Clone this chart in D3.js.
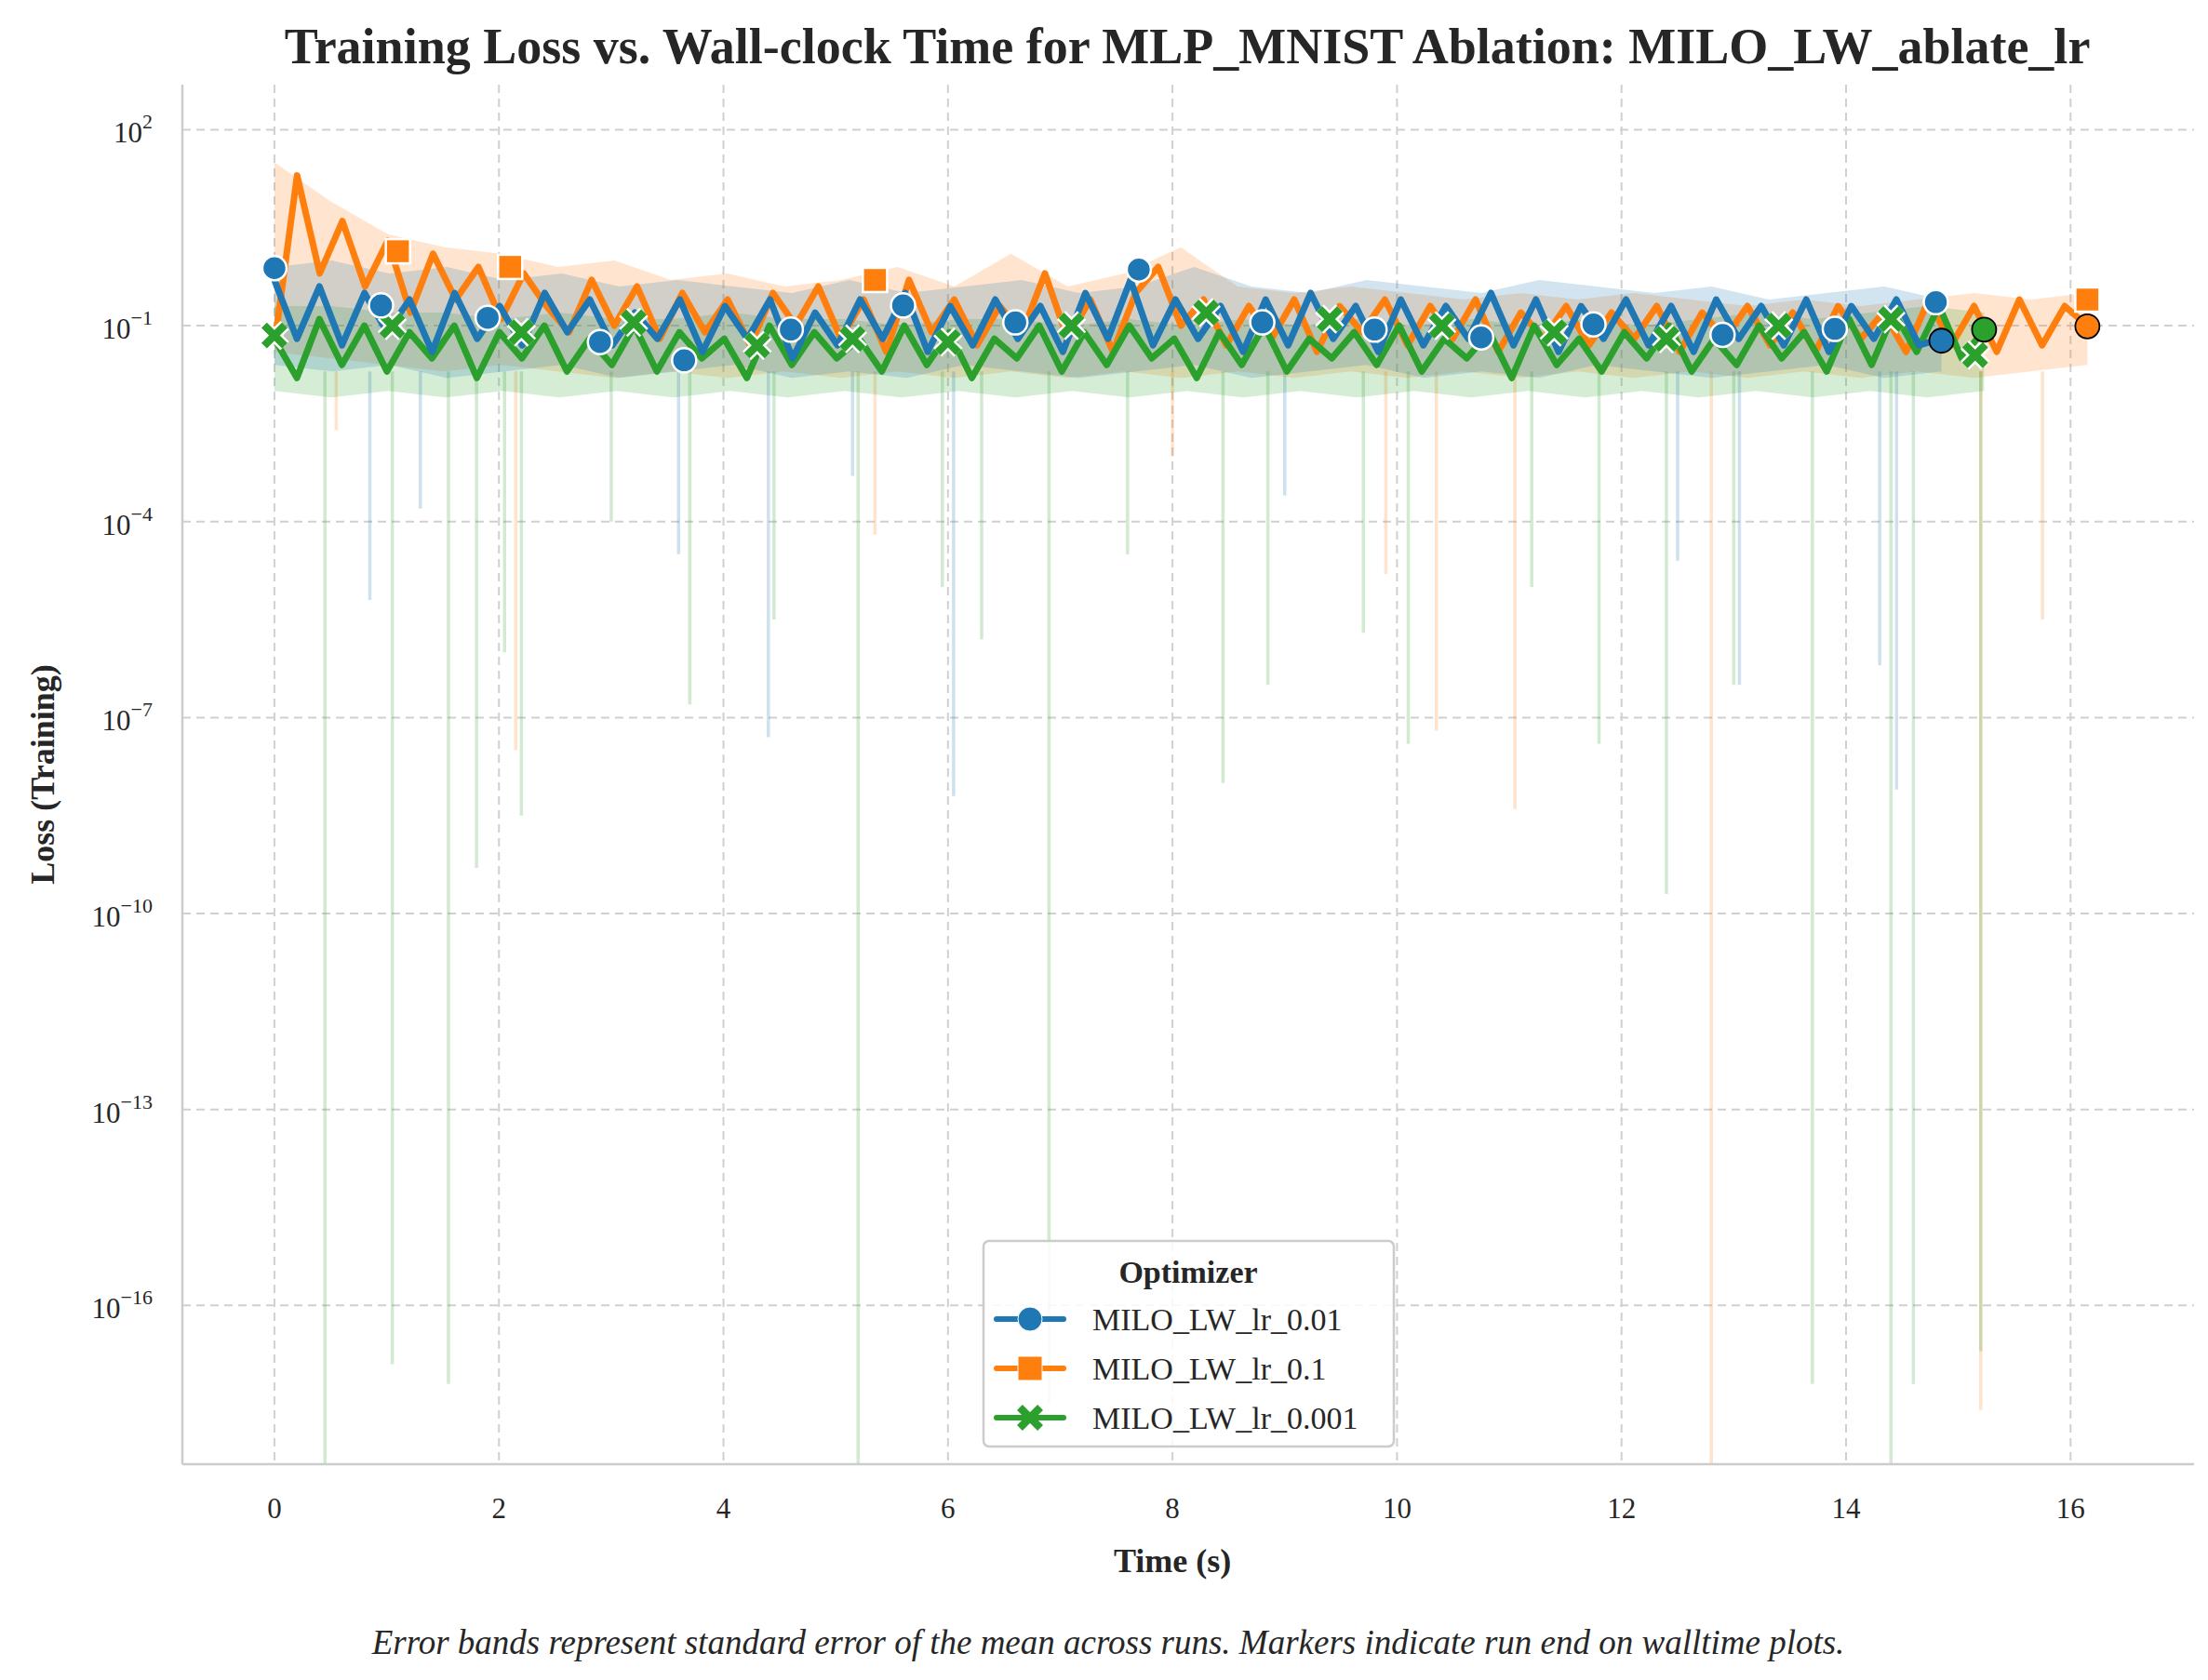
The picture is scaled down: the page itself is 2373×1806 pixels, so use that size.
<!DOCTYPE html>
<html>
<head>
<meta charset="utf-8">
<script src="https://cdn.jsdelivr.net/npm/d3@7"></script>
<style>
  body { margin: 0; background: white; }
  text { font-family: "Liberation Serif", "DejaVu Serif", serif; fill: #262626; }
</style>
</head>
<body>
<div id="chart"></div>
<script>
// Series names and colours
var seriesNames = ["MILO_LW_lr_0.01", "MILO_LW_lr_0.1", "MILO_LW_lr_0.001"];
var seriesEnd = [14.85, 16.15, 15.23];   // run end time (s)

// Mean loss, log10, evenly spaced from 0 to run end
var blueLog = [-0.3,-1.2,-0.4,-1.3,-0.5,-1.1,-0.6,-1.4,-0.5,-1.2,
  -0.7,-1.3,-0.5,-1.1,-0.6,-1.3,-0.8,-1.2,-0.6,-1.4,
  -0.7,-1.2,-0.6,-1.5,-0.8,-1.3,-0.6,-1.2,-0.5,-1.4,
  -0.7,-1.3,-0.6,-1.2,-0.7,-1.4,-0.5,-1.2,-0.3,-1.3,
  -0.6,-1.2,-0.7,-1.4,-0.6,-1.3,-0.5,-1.2,-0.7,-1.4,
  -0.6,-1.3,-0.7,-1.2,-0.5,-1.3,-0.6,-1.4,-0.7,-1.2,
  -0.6,-1.3,-0.7,-1.4,-0.6,-1.2,-0.7,-1.3,-0.6,-1.4,
  -0.7,-1.2,-0.6,-1.3,-1.2];
var orangeLog = [-1.3,1.3,-0.2,0.6,-0.4,0.3,-0.8,0.1,-0.6,-0.1,
  -0.9,-0.2,-0.7,-1.1,-0.3,-1.0,-0.4,-1.2,-0.5,-1.1,
  -0.6,-1.3,-0.5,-1.0,-0.4,-1.2,-0.6,-1.4,-0.3,-1.1,
  -0.6,-1.3,-0.7,-1.1,-0.2,-1.2,-0.6,-1.4,-0.5,-0.1,
  -1.0,-0.6,-1.3,-0.7,-1.2,-0.6,-1.4,-0.7,-1.1,-0.6,
  -1.3,-0.7,-1.2,-0.6,-1.4,-0.8,-1.2,-0.7,-1.3,-0.8,
  -1.2,-0.7,-1.4,-0.8,-1.2,-0.7,-1.3,-0.8,-1.4,-0.7,
  -1.2,-0.8,-1.4,-0.6,-1.3,-0.7,-1.4,-0.6,-1.3,-0.7,-1.0];
var greenLog = [-1.2,-1.8,-0.9,-1.6,-1.0,-1.7,-1.1,-1.5,-1.0,-1.8,
  -1.1,-1.5,-1.0,-1.7,-1.2,-1.6,-1.0,-1.7,-1.1,-1.5,
  -1.2,-1.8,-1.0,-1.6,-1.1,-1.5,-1.2,-1.7,-1.0,-1.6,
  -1.1,-1.8,-1.2,-1.5,-1.0,-1.7,-1.1,-1.6,-1.0,-1.5,
  -1.2,-1.8,-1.1,-1.6,-1.0,-1.7,-1.2,-1.5,-1.1,-1.6,
  -1.0,-1.7,-1.2,-1.5,-1.1,-1.8,-1.0,-1.6,-1.2,-1.7,
  -1.1,-1.5,-1.0,-1.7,-1.2,-1.6,-1.0,-1.5,-1.1,-1.7,
  -0.9,-1.6,-0.8,-1.4,-0.7,-1.5,-1.06];

// Error band envelopes, log10, sampled every half second
var blueUpper = [-0.1,0.0,-0.2,-0.1,-0.3,-0.2,-0.4,-0.3,-0.4,-0.5,-0.3,-0.5,-0.4,-0.3,-0.5,
  -0.4,-0.1,-0.4,-0.5,-0.3,-0.4,-0.5,-0.3,-0.4,-0.5,-0.4,-0.6,-0.5,-0.4,-0.6];
var blueLower = [-1.6,-1.7,-1.6,-1.8,-1.7,-1.6,-1.8,-1.7,-1.6,-1.8,-1.7,-1.8,-1.6,-1.7,-1.8,
  -1.7,-1.6,-1.8,-1.7,-1.6,-1.8,-1.7,-1.8,-1.6,-1.7,-1.8,-1.7,-1.6,-1.8,-1.7];
var orangeUpper = [1.5,0.9,0.4,0.2,0.1,-0.1,0.0,-0.3,-0.2,-0.4,-0.3,-0.1,-0.4,0.1,-0.4,
  -0.2,0.2,-0.4,-0.5,-0.4,-0.5,-0.6,-0.5,-0.6,-0.5,-0.6,-0.7,-0.6,-0.7,-0.6,-0.5,-0.6,-0.5];
var orangeLower = [-1.4,-1.5,-1.6,-1.7,-1.6,-1.7,-1.8,-1.7,-1.8,-1.7,-1.8,-1.7,-1.8,-1.7,-1.8,
  -1.7,-1.8,-1.7,-1.8,-1.7,-1.8,-1.7,-1.8,-1.7,-1.8,-1.7,-1.8,-1.7,-1.8,-1.7,-1.8,-1.7,-1.6];
var greenUpper = [-0.7,-0.7,-0.8,-0.8,-0.9,-0.8,-0.9,-0.9,-0.8,-0.9,-0.9,-1.0,-0.9,-0.9,-1.0,
  -0.9,-1.0,-0.9,-1.0,-0.9,-1.0,-0.9,-1.0,-0.9,-1.0,-0.9,-0.8,-0.9,-0.8,-0.7,-0.8];
var greenLower = [-2.0,-2.1,-2.0,-2.1,-2.0,-2.1,-2.0,-2.1,-2.0,-2.1,-2.0,-2.1,-2.0,-2.1,-2.0,
  -2.1,-2.0,-2.1,-2.0,-2.1,-2.0,-2.1,-2.0,-2.1,-2.0,-2.1,-2.0,-2.1,-2.0,-2.1,-2.0];

// Deep dips of the lower error band: [time, log10 loss]
var blueSpikes = [[0.85,-5.2],[1.3,-3.8],[3.6,-4.5],[4.4,-7.3],[5.15,-3.3],[6.05,-8.2],
  [9.0,-3.6],[12.5,-4.6],[13.05,-6.5],[14.3,-6.2],[14.45,-8.1]];
var orangeSpikes = [[0.55,-2.6],[2.15,-7.5],[5.35,-4.2],[8.0,-3.0],[9.9,-4.8],[10.35,-7.2],
  [11.05,-8.4],[12.8,-18.5],[15.2,-17.6],[15.75,-5.5]];
var greenSpikes = [[0.45,-18.5],[1.05,-16.9],[1.55,-17.2],[1.8,-9.3],[2.05,-6.0],[2.2,-8.5],
  [3.0,-4.0],[3.7,-6.8],[4.45,-5.5],[5.2,-18.5],[5.95,-5.0],[6.3,-5.8],[6.9,-17.5],
  [7.6,-4.5],[8.45,-8.0],[8.85,-6.5],[9.7,-5.7],[10.1,-7.4],[11.2,-5.0],[11.8,-7.4],
  [12.4,-9.7],[13.0,-6.5],[13.7,-17.2],[14.4,-18.5],[14.6,-17.2],[15.2,-16.7]];

// Markers along the mean curves: [time, log10 loss]
var blueMarkers = [[0,-0.12],[0.95,-0.69],[1.9,-0.88],[2.9,-1.25],[3.65,-1.53],[4.6,-1.06],
  [5.6,-0.69],[6.6,-0.95],[7.7,-0.14],[8.8,-0.95],[9.8,-1.06],[10.75,-1.18],
  [11.75,-0.98],[12.9,-1.14],[13.9,-1.05],[14.8,-0.64]];
var orangeMarkers = [[1.1,0.14],[2.1,-0.1],[5.35,-0.3],[16.15,-0.6]];
var greenMarkers = [[0,-1.15],[1.05,-1.0],[2.2,-1.1],[3.2,-0.95],[4.3,-1.3],[5.15,-1.2],
  [6.0,-1.25],[7.1,-1.0],[8.3,-0.8],[9.4,-0.9],[10.4,-1.0],[11.4,-1.1],
  [12.4,-1.2],[13.4,-1.0],[14.4,-0.9],[15.15,-1.45]];

var xTicks = [0, 2, 4, 6, 8, 10, 12, 14, 16];
var yTickExp = [2, -1, -4, -7, -10, -13, -16];

var colors = ["#1f77b4", "#ff7f0e", "#2ca02c"];

var svgWidth = 2373, svgHeight = 1806;
var margin = { top: 91, right: 15, bottom: 232, left: 196 };
var chartWidth = svgWidth - margin.left - margin.right;
var chartHeight = svgHeight - margin.top - margin.bottom;

var svg = d3.select("#chart").append("svg")
  .attr("width", svgWidth).attr("height", svgHeight);
var g = svg.append("g").attr("transform", `translate(${margin.left},${margin.top})`);

var x = d3.scaleLinear().domain([-0.82, 17.1]).range([0, chartWidth]);
var y = d3.scaleLog().domain([Math.pow(10, -18.43), Math.pow(10, 2.69)]).range([chartHeight, 0]);
var p10 = function (e) { return Math.pow(10, e); };

// grid
g.selectAll(".gx").data(xTicks).enter().append("line")
  .attr("x1", d => x(d)).attr("x2", d => x(d)).attr("y1", 0).attr("y2", chartHeight)
  .attr("stroke", "#d0d0d0").attr("stroke-width", 2).attr("stroke-dasharray", "9,6");
g.selectAll(".gy").data(yTickExp).enter().append("line")
  .attr("y1", d => y(p10(d))).attr("y2", d => y(p10(d))).attr("x1", 0).attr("x2", chartWidth)
  .attr("stroke", "#d0d0d0").attr("stroke-width", 2).attr("stroke-dasharray", "9,6");

function series(vals, end) {
  var step = end / (vals.length - 1);
  return vals.map((v, i) => [i * step, v]);
}
function bandData(up, lo, end) {
  var step = end / (up.length - 1);
  return up.map((u, i) => ({ t: i * step, u: u, l: lo[i] }));
}

var means = [series(blueLog, seriesEnd[0]), series(orangeLog, seriesEnd[1]), series(greenLog, seriesEnd[2])];
var bands = [bandData(blueUpper, blueLower, seriesEnd[0]),
  bandData(orangeUpper, orangeLower, seriesEnd[1]),
  bandData(greenUpper, greenLower, seriesEnd[2])];
var spikes = [blueSpikes, orangeSpikes, greenSpikes];
var markers = [blueMarkers, orangeMarkers, greenMarkers];

var area = d3.area().x(d => x(d.t)).y0(d => y(p10(d.l))).y1(d => y(p10(d.u)));
var line = d3.line().x(d => x(d[0])).y(d => y(p10(d[1])));

var order = [1, 2, 0];
var plot = g.append("g");
order.forEach(function (i) {
  plot.append("path").datum(bands[i]).attr("d", area)
    .attr("fill", colors[i]).attr("opacity", 0.2);
  plot.selectAll(null).data(spikes[i]).enter().append("line")
    .attr("x1", d => x(d[0])).attr("x2", d => x(d[0]))
    .attr("y1", y(p10(-1.7))).attr("y2", d => Math.min(chartHeight, y(p10(d[1]))))
    .attr("stroke", colors[i]).attr("stroke-opacity", 0.22).attr("stroke-width", 3.5);
});
order.forEach(function (i) {
  plot.append("path").datum(means[i]).attr("d", line)
    .attr("fill", "none").attr("stroke", colors[i]).attr("stroke-width", 7)
    .attr("stroke-linejoin", "round");
});

// marker shapes
function drawMarker(sel, i, size, stroke, sw) {
  if (i === 0) {
    sel.append("circle").attr("r", size).attr("fill", colors[0]).attr("stroke", stroke).attr("stroke-width", sw);
  } else if (i === 1) {
    sel.append("rect").attr("x", -size).attr("y", -size).attr("width", 2 * size).attr("height", 2 * size)
      .attr("fill", colors[1]).attr("stroke", stroke).attr("stroke-width", sw);
  } else {
    var s = size * 0.85;
    var p = `M${-s},${-s}L${s},${s}M${-s},${s}L${s},${-s}`;
    if (sw > 0) sel.append("path").attr("d", p).attr("stroke", stroke).attr("stroke-width", s * 0.75 + 2 * sw);
    sel.append("path").attr("d", p).attr("stroke", colors[2]).attr("stroke-width", s * 0.75);
  }
}
order.forEach(function (i) {
  markers[i].forEach(function (m) {
    var mg = g.append("g").attr("transform", `translate(${x(m[0])},${y(p10(m[1]))})`);
    drawMarker(mg, i, 13, "white", 2.5);
  });
});
// run-end markers
var endLog = [-1.23, -1.01, -1.06];
endLog.forEach(function (v, i) {
  g.append("circle").attr("cx", x(seriesEnd[i])).attr("cy", y(p10(v))).attr("r", 13)
    .attr("fill", colors[i]).attr("stroke", "black").attr("stroke-width", 1.8);
});

// spines
g.append("line").attr("x1", 0).attr("x2", 0).attr("y1", 0).attr("y2", chartHeight)
  .attr("stroke", "#cccccc").attr("stroke-width", 2.5);
g.append("line").attr("x1", 0).attr("x2", chartWidth).attr("y1", chartHeight).attr("y2", chartHeight)
  .attr("stroke", "#cccccc").attr("stroke-width", 2.5);

// tick labels
g.selectAll(".xt").data(xTicks).enter().append("text")
  .attr("x", d => x(d)).attr("y", chartHeight + 58).attr("text-anchor", "middle")
  .attr("font-size", 31).text(d => d);
yTickExp.forEach(function (e) {
  var t = g.append("text").attr("x", -32).attr("y", y(p10(e)) + 14).attr("text-anchor", "end").attr("font-size", 31);
  t.append("tspan").text("10");
  t.append("tspan").attr("dy", -15).attr("font-size", 22).text(e < 0 ? "\u2212" + (-e) : e);
});

// titles
svg.append("text").attr("x", 1276).attr("y", 68).attr("text-anchor", "middle")
  .attr("font-size", 54).attr("font-weight", "bold")
  .text("Training Loss vs. Wall-clock Time for MLP_MNIST Ablation: MILO_LW_ablate_lr");
svg.append("text").attr("x", margin.left + x(8)).attr("y", 1690).attr("text-anchor", "middle")
  .attr("font-size", 36).attr("font-weight", "bold").text("Time (s)");
svg.append("text").attr("transform", `translate(58,${margin.top + chartHeight / 2}) rotate(-90)`)
  .attr("text-anchor", "middle").attr("font-size", 36).attr("font-weight", "bold").text("Loss (Training)");
svg.append("text").attr("x", 1191).attr("y", 1778).attr("text-anchor", "middle")
  .attr("font-size", 37).attr("font-style", "italic")
  .text("Error bands represent standard error of the mean across runs. Markers indicate run end on walltime plots.");

// legend
var lg = svg.append("g").attr("transform", "translate(1057,1334)");
lg.append("rect").attr("width", 441).attr("height", 221).attr("rx", 6)
  .attr("fill", "white").attr("fill-opacity", 0.85).attr("stroke", "#cccccc").attr("stroke-width", 2.5);
lg.append("text").attr("x", 220).attr("y", 45).attr("text-anchor", "middle")
  .attr("font-size", 34).attr("font-weight", "bold").text("Optimizer");
seriesNames.forEach(function (name, i) {
  var yy = 84 + i * 53;
  lg.append("line").attr("x1", 14).attr("x2", 86).attr("y1", yy).attr("y2", yy)
    .attr("stroke", colors[i]).attr("stroke-width", 6).attr("stroke-linecap", "round");
  var mg = lg.append("g").attr("transform", `translate(50,${yy})`);
  drawMarker(mg, i, 13, "white", i === 2 ? 0 : 1);
  lg.append("text").attr("x", 117).attr("y", yy + 12).attr("font-size", 34).text(name);
});
</script>
</body>
</html>
